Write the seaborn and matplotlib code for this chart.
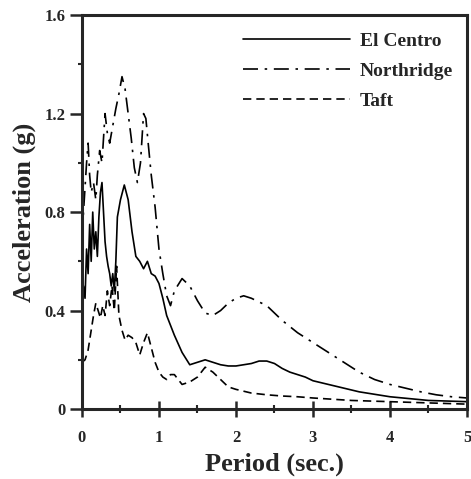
import numpy as np
import pandas as pd
import matplotlib
matplotlib.use('Agg')
import matplotlib.pyplot as plt
from matplotlib.ticker import MultipleLocator, FixedLocator, FixedFormatter
import seaborn as sns

# Response spectra (period in s, acceleration in g)
el_centro_t = [0, 0.02, 0.04, 0.06, 0.08, 0.1, 0.12, 0.14, 0.16, 0.18, 0.2, 0.22, 0.24,
               0.26, 0.28, 0.3, 0.32, 0.34, 0.36, 0.38, 0.4, 0.42, 0.44, 0.46, 0.5, 0.55,
               0.6, 0.65, 0.7, 0.75, 0.8, 0.85, 0.9, 0.95, 1.0, 1.05, 1.1, 1.15, 1.2, 1.3,
               1.4, 1.5, 1.6, 1.7, 1.8, 1.9, 2.0, 2.1, 2.2, 2.3, 2.4, 2.5, 2.6, 2.7, 2.8,
               2.9, 3.0, 3.2, 3.4, 3.6, 3.8, 4.0, 4.5, 5.0]
el_centro_a = [0.38, 0.5, 0.45, 0.65, 0.55, 0.75, 0.6, 0.8, 0.65, 0.72, 0.62, 0.78, 0.88,
               0.92, 0.8, 0.68, 0.62, 0.58, 0.55, 0.5, 0.55, 0.48, 0.6, 0.78, 0.85, 0.91,
               0.85, 0.72, 0.62, 0.6, 0.57, 0.6, 0.55, 0.54, 0.51, 0.45, 0.38, 0.34, 0.3,
               0.23, 0.18, 0.19, 0.2, 0.19, 0.18, 0.175, 0.175, 0.18, 0.185, 0.195, 0.195,
               0.185, 0.165, 0.15, 0.14, 0.13, 0.115, 0.1, 0.085, 0.07, 0.06, 0.05, 0.035, 0.03]

northridge_t = [0, 0.03, 0.06, 0.08, 0.1, 0.12, 0.15, 0.18, 0.2, 0.23, 0.26, 0.3, 0.33,
                0.36, 0.4, 0.44, 0.48, 0.52, 0.56, 0.6, 0.64, 0.68, 0.72, 0.76, 0.8, 0.83,
                0.86, 0.9, 0.95, 1.0, 1.05, 1.1, 1.15, 1.2, 1.3, 1.4, 1.5, 1.6, 1.7, 1.8,
                1.9, 2.0, 2.1, 2.2, 2.4, 2.6, 2.8, 3.0, 3.2, 3.4, 3.6, 3.8, 4.0, 4.2, 4.4,
                4.6, 4.8, 5.0]
northridge_a = [0.7, 0.85, 1.0, 1.08, 0.95, 0.88, 0.92, 0.85, 0.95, 1.05, 1.0, 1.2, 1.12,
                1.08, 1.15, 1.22, 1.28, 1.35, 1.3, 1.2, 1.1, 0.98, 0.92, 1.0, 1.2, 1.18,
                1.08, 0.95, 0.82, 0.65, 0.55, 0.46, 0.42, 0.48, 0.53, 0.5, 0.44, 0.39, 0.38,
                0.4, 0.43, 0.45, 0.46, 0.45, 0.42, 0.36, 0.31, 0.27, 0.23, 0.19, 0.15, 0.12,
                0.1, 0.085, 0.07, 0.058, 0.05, 0.045]

taft_t = [0, 0.04, 0.08, 0.12, 0.15, 0.18, 0.21, 0.24, 0.27, 0.3, 0.33, 0.36, 0.39, 0.42,
          0.45, 0.48, 0.52, 0.56, 0.6, 0.65, 0.7, 0.75, 0.8, 0.85, 0.9, 0.95, 1.0, 1.05,
          1.1, 1.15, 1.2, 1.3, 1.4, 1.5, 1.6, 1.7, 1.8, 1.9, 2.0, 2.2, 2.4, 2.6, 2.8, 3.0,
          3.5, 4.0, 4.5, 5.0]
taft_a = [0.19, 0.2, 0.24, 0.32, 0.38, 0.43, 0.4, 0.37, 0.42, 0.38, 0.48, 0.42, 0.5, 0.4,
          0.58, 0.38, 0.32, 0.28, 0.3, 0.29, 0.27, 0.22, 0.27, 0.31, 0.25, 0.19, 0.15, 0.13,
          0.12, 0.14, 0.14, 0.1, 0.11, 0.13, 0.17, 0.15, 0.12, 0.09, 0.08, 0.065, 0.058,
          0.053, 0.05, 0.045, 0.035, 0.03, 0.025, 0.02]

x_ticks = [0, 1, 2, 3, 4, 5]
y_ticks = [0, 0.4, 0.8, 1.2, 1.6]
y_tick_labels = ['0', '0.4', '0.8', '1.2', '1.6']

sns.set_style('ticks')
plt.rcParams['font.family'] = ['Liberation Serif', 'DejaVu Serif']
plt.rcParams['font.weight'] = 'bold'

fig = plt.figure(figsize=(4.71, 4.79), dpi=100)
ax = fig.add_axes([0.174, 0.146, 0.8175, 0.8225])

series = [
    ('El Centro', el_centro_t, el_centro_a, None),
    ('Northridge', northridge_t, northridge_a, (9, 4, 1.5, 4)),
    ('Taft', taft_t, taft_a, (5, 3)),
]
for name, t, a, dash in series:
    df = pd.DataFrame({'t': t, 'a': a})
    sns.lineplot(data=df, x='t', y='a', color='black', lw=1.2, ax=ax,
                 label=name, estimator=None)
    if dash is not None:
        ax.lines[-1].set_dashes(dash)

ax.set_xlim(0, 5)
ax.set_ylim(0, 1.6)
ax.xaxis.set_major_locator(FixedLocator(x_ticks))
ax.xaxis.set_minor_locator(MultipleLocator(0.5))
ax.yaxis.set_major_locator(FixedLocator(y_ticks))
ax.yaxis.set_major_formatter(FixedFormatter(y_tick_labels))
ax.yaxis.set_minor_locator(MultipleLocator(0.2))
ax.tick_params(axis='x', which='major', direction='inout', length=12, width=1.8,
               labelsize=12, pad=9)
ax.tick_params(axis='x', which='minor', direction='inout', length=6, width=1.5)
ax.tick_params(axis='y', which='major', direction='out', length=9, width=1.8,
               labelsize=12, pad=3)
ax.tick_params(axis='y', which='minor', direction='out', length=3, width=1.5)
for lbl in ax.get_xticklabels() + ax.get_yticklabels():
    lbl.set_fontweight('bold')
for s in ax.spines.values():
    s.set_linewidth(2.2)
    s.set_visible(True)

ax.set_xlabel('Period (sec.)', fontsize=19, fontweight='bold', labelpad=5)
ax.set_ylabel('Acceleration (g)', fontsize=19, fontweight='bold', labelpad=6)

leg = ax.legend(loc='upper right', bbox_to_anchor=(1.0, 0.99), frameon=False,
                handlelength=5.5, fontsize=14, labelspacing=0.62, handletextpad=0.5,
                borderaxespad=0.3)
for txt in leg.get_texts():
    txt.set_fontweight('bold')

fig.savefig('out.png', dpi=100)
